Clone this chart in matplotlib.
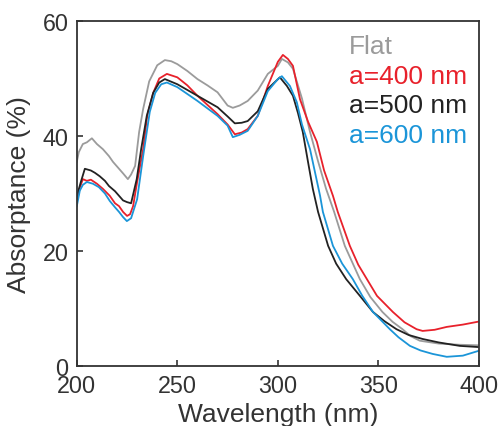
import matplotlib
matplotlib.use('Agg')
import matplotlib.pyplot as plt

plt.rcParams['font.family'] = ['Liberation Sans', 'DejaVu Sans']

# Absorptance spectra
flat_x = [200, 201, 203, 205, 207.5, 210, 213, 216, 218, 221, 223, 225.4, 227, 229, 231, 233,
          236, 240, 243.8, 247, 250, 255, 260, 265, 270, 275, 277.6, 281, 285, 290, 295, 300,
          302, 305, 307.5, 312, 316, 320, 324, 328, 333.3, 340.8, 346, 352, 357, 362, 366,
          370.6, 380, 390, 399.5]
flat_y = [35.5, 37.2, 38.6, 38.9, 39.6, 38.6, 37.7, 36.5, 35.5, 34.3, 33.5, 32.5, 33.3, 34.8,
          40.7, 44.7, 49.5, 52.3, 53.2, 53.0, 52.5, 51.3, 49.9, 48.8, 47.6, 45.3, 44.9, 45.3,
          46.1, 47.9, 50.8, 52.2, 53.4, 52.8, 51.7, 46.5, 40.7, 35.6, 30.8, 26.8, 20.9, 15.1,
          12.0, 9.4, 7.7, 6.4, 5.2, 4.4, 3.9, 3.7, 3.6]

r400_x = [200, 201.5, 203, 205, 207, 210, 213, 216.4, 219, 221, 223, 225, 226.5, 228, 230, 233,
          235, 238, 241, 244.8, 250, 255, 260, 265, 270, 275, 278.6, 282, 285, 290, 295, 300,
          302.5, 305, 307.5, 311, 315, 319.4, 323, 327.4, 329.8, 335.8, 340, 344.3, 349.3,
          357.2, 363, 369, 372, 378, 384, 392, 399.5]
r400_y = [28.5, 31.0, 32.5, 32.2, 32.4, 31.7, 30.8, 29.6, 28.3, 27.8, 26.8, 26.1, 26.4, 27.8,
          32.0, 37.7, 43.5, 47.5, 50.0, 50.8, 50.2, 48.8, 47.0, 45.4, 43.8, 42.0, 40.3, 40.6,
          41.2, 43.5, 48.7, 52.9, 54.1, 53.4, 52.2, 46.4, 42.5, 39.0, 34.0, 29.6, 26.8, 20.9,
          17.6, 15.1, 12.2, 9.4, 7.6, 6.4, 6.1, 6.3, 6.8, 7.2, 7.7]

b500_x = [200, 202, 204, 207, 209, 211.4, 214, 216, 219, 221, 223, 225, 227, 229.8, 232, 234.8,
          238, 241, 243.8, 250, 255, 260, 265, 270, 275, 278.6, 282, 285, 290, 295, 298, 301,
          304.5, 307.5, 310, 312.4, 315, 317.4, 320, 325, 329, 334, 340.8, 347.3, 353, 359,
          365, 372, 380, 390.5, 399.5]
b500_y = [29.5, 32.0, 34.3, 34.0, 33.6, 33.0, 32.2, 31.3, 30.4, 29.6, 28.8, 28.5, 28.3, 32.5,
          37.7, 43.5, 47.5, 49.3, 49.9, 49.0, 48.0, 47.0, 46.0, 45.0, 43.4, 42.2, 42.3, 42.6,
          44.3, 48.2, 49.2, 50.2, 48.7, 47.0, 44.0, 40.7, 35.5, 30.8, 26.8, 20.9, 17.8, 15.1,
          12.2, 9.4, 7.8, 6.4, 5.4, 4.7, 4.1, 3.5, 3.3]

b600_x = [200, 201.5, 203, 205, 208, 211, 214, 216.4, 219, 221, 223, 224.9, 227, 230, 233,
          236.3, 239, 242, 244.8, 250, 255, 260, 265, 270, 275, 277.6, 281, 285, 290, 295, 300,
          302, 306, 309.4, 312, 316, 321, 322.4, 327.4, 332, 337.3, 342, 347.3, 355.7, 360,
          365.7, 371, 377, 384, 392, 399.5]
b600_y = [27.8, 30.5, 31.5, 32.0, 31.7, 31.1, 30.0, 28.7, 27.6, 26.8, 25.9, 25.2, 25.7, 29.0,
          36.5, 44.2, 47.5, 49.0, 49.3, 48.5, 47.3, 46.1, 44.8, 43.5, 41.8, 39.8, 40.2, 40.9,
          43.5, 47.8, 49.9, 50.4, 48.7, 45.9, 42.0, 37.7, 29.6, 26.8, 20.9, 17.8, 15.1, 12.2,
          9.4, 6.4, 5.0, 3.5, 2.7, 2.1, 1.6, 1.8, 2.6]

labels = ['Flat', 'a=400 nm', 'a=500 nm', 'a=600 nm']
colors = ['#9b9b9b', '#e8212b', '#222222', '#1b95d8']

fig = plt.figure(figsize=(5.02, 4.27), dpi=100)
ax = fig.add_axes([0.153, 0.1405, 0.801, 0.808])

series = [(flat_x, flat_y), (r400_x, r400_y), (b500_x, b500_y), (b600_x, b600_y)]
for (xs, ys), c in zip(series, colors):
    ax.plot(xs, ys, color=c, lw=1.3)

ax.set_xlim(200, 400)
ax.set_ylim(0, 60)
ax.set_xticks([200, 250, 300, 350, 400])
ax.set_yticks([0, 20, 40, 60])

for s in ax.spines.values():
    s.set_linewidth(1.3)
    s.set_color('#333333')
ax.tick_params(direction='in', length=4, width=1.2, colors='#333333',
               labelsize=16.8, pad=6)
ax.set_xlabel('Wavelength (nm)', fontsize=19, color='#333333', labelpad=3)
ax.set_ylabel('Absorptance (%)', fontsize=19, color='#333333', labelpad=8)

# coloured text legend
for i, (lab, c) in enumerate(zip(labels, colors)):
    ax.text(0.677, 0.906 - i * 0.0855, lab, color=c, fontsize=19,
            transform=ax.transAxes, ha='left', va='baseline')

fig.savefig('out.png', dpi=100)
